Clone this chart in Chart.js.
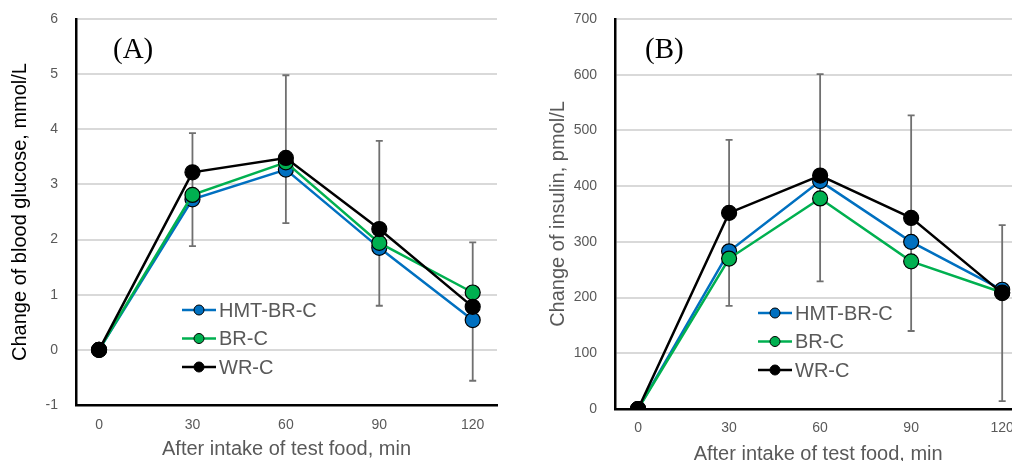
<!DOCTYPE html>
<html>
<head>
<meta charset="utf-8">
<script src="https://cdn.jsdelivr.net/npm/chart.js@4.4.0/dist/chart.umd.min.js"></script>
<style>
    html, body { margin: 0; padding: 0; background: #fff; }
    body { width: 1012px; height: 461px; overflow: hidden; position: relative; }
    #boxA { position: absolute; left: 0; top: 0; width: 506px; height: 461px; }
    #boxB { position: absolute; left: 510px; top: 0; width: 520px; height: 472px; }
</style>
</head>
<body>
<div id="boxA"><canvas id="chartA"></canvas></div>
<div id="boxB"><canvas id="chartB"></canvas></div>
<script>
// x values, min after intake
var timePoints = [0, 30, 60, 90, 120];
var seriesNames = ["HMT-BR-C", "BR-C", "WR-C"];

// (A) blood glucose, mmol/L
var glucoseHMT = [0, 2.73, 3.27, 1.85, 0.54];
var glucoseBR = [0, 2.81, 3.40, 1.94, 1.04];
var glucoseWR = [0, 3.22, 3.48, 2.19, 0.78];
var glucoseErrHigh = [null, 3.93, 4.98, 3.79, 1.95];
var glucoseErrLow = [null, 1.88, 2.30, 0.80, -0.56];
var glucoseTicks = [-1, 0, 1, 2, 3, 4, 5, 6];

// (B) insulin, pmol/L
var insulinHMT = [0, 283, 409, 300, 214];
var insulinBR = [0, 270, 378, 265, 209];
var insulinWR = [0, 352, 419, 343, 208];
var insulinErrHigh = [null, 483, 601, 527, 330];
var insulinErrLow = [null, 185, 229, 140, 14];
var insulinTicks = [0, 100, 200, 300, 400, 500, 600, 700];

var colors = ["#0070C0", "#00B050", "#000000"];
var textGray = "#595959";
var sansFont = "'Liberation Sans', Arial, sans-serif";

function toXY(vals) {
    return vals.map(function (v, i) { return { x: timePoints[i], y: v }; });
}

// error bars drawn under the lines
var errorBarPlugin = {
    id: "errorBars",
    beforeDatasetsDraw: function (chart) {
        var o = chart.options.plugins.errorBars;
        var ctx = chart.ctx, xs = chart.scales.x, ys = chart.scales.y;
        ctx.save();
        ctx.strokeStyle = "#707070";
        ctx.lineWidth = 1.8;
        for (var i = 0; i < timePoints.length; i++) {
            if (o.high[i] == null) continue;
            var px = xs.getPixelForValue(timePoints[i]);
            var y1 = ys.getPixelForValue(o.high[i]);
            var y2 = ys.getPixelForValue(o.low[i]);
            ctx.beginPath();
            ctx.moveTo(px, y1); ctx.lineTo(px, y2);
            ctx.moveTo(px - 3.5, y1); ctx.lineTo(px + 3.5, y1);
            ctx.moveTo(px - 3.5, y2); ctx.lineTo(px + 3.5, y2);
            ctx.stroke();
        }
        ctx.restore();
    }
};

// panel label and in-plot legend
var panelPlugin = {
    id: "panel",
    afterDatasetsDraw: function (chart) {
        var o = chart.options.plugins.panel;
        var ctx = chart.ctx;
        ctx.save();
        ctx.fillStyle = "#000";
        ctx.font = "29px 'Liberation Serif', 'Times New Roman', serif";
        ctx.textBaseline = "middle";
        ctx.textAlign = "left";
        ctx.fillText(o.label, o.labelX, o.labelY);

        chart.data.datasets.slice().sort(function (a, b) { return a.legendIndex - b.legendIndex; }).forEach(function (ds, k) {
            var y = o.legendY + k * o.legendGap;
            var x0 = o.legendX;
            ctx.strokeStyle = ds.borderColor;
            ctx.lineWidth = 2.5;
            ctx.beginPath();
            ctx.moveTo(x0, y); ctx.lineTo(x0 + 34, y);
            ctx.stroke();
            ctx.beginPath();
            ctx.arc(x0 + 17, y, 5, 0, Math.PI * 2);
            ctx.fillStyle = ds.pointBackgroundColor;
            ctx.fill();
            ctx.lineWidth = 1;
            ctx.strokeStyle = "#000";
            ctx.stroke();
            ctx.fillStyle = textGray;
            ctx.font = "20px " + sansFont;
            ctx.fillText(ds.label, x0 + 37, y + 1);
        });
        ctx.restore();
    }
};

function makeChart(id, p) {
    var datasets = p.series.map(function (vals, i) {
        return {
            label: seriesNames[i],
            legendIndex: i,
            data: toXY(vals),
            borderColor: colors[i],
            backgroundColor: colors[i],
            pointBackgroundColor: colors[i],
            pointBorderColor: "#000",
            pointBorderWidth: 1.2,
            pointRadius: 7.5,
            borderWidth: 2.5,
            tension: 0,
            order: 2 - i
        };
    });

    return new Chart(document.getElementById(id), {
        type: "line",
        data: { datasets: datasets },
        options: {
            responsive: true,
            maintainAspectRatio: false,
            animation: false,
            layout: { padding: { top: 19, left: 0, right: p.padRight, bottom: 0 } },
            plugins: {
                legend: { display: false },
                tooltip: { enabled: false },
                errorBars: { high: p.errHigh, low: p.errLow },
                panel: p.panel
            },
            scales: {
                x: {
                    type: "linear",
                    min: p.xMin,
                    max: p.xMax,
                    afterBuildTicks: function (axis) {
                        axis.ticks = timePoints.map(function (v) { return { value: v }; });
                    },
                    afterFit: function (axis) { axis.height = p.xHeight; },
                    grid: { display: false, drawTicks: false },
                    border: { display: true, color: "#000", width: 2.5 },
                    ticks: { color: textGray, font: { family: sansFont, size: 14 }, padding: p.xTickPad, maxRotation: 0 },
                    title: {
                        display: true,
                        text: "After intake of test food, min",
                        color: textGray,
                        font: { family: sansFont, size: 20 },
                        padding: { top: 0, bottom: p.xTitlePad }
                    }
                },
                y: {
                    type: "linear",
                    min: p.yTicks[0],
                    max: p.yTicks[p.yTicks.length - 1],
                    afterBuildTicks: function (axis) {
                        axis.ticks = p.yTicks.map(function (v) { return { value: v }; });
                    },
                    afterFit: function (axis) {
                        axis.width = p.yWidth;
                        axis.paddingTop = 0;
                        axis.paddingBottom = 0;
                    },
                    grid: { color: "#d9d9d9", lineWidth: 2, drawTicks: false },
                    border: { display: true, color: "#000", width: 2.5 },
                    ticks: { color: textGray, font: { family: sansFont, size: 14 }, padding: 18 },
                    title: {
                        display: true,
                        text: p.yTitle,
                        color: p.yTitleColor,
                        font: { family: sansFont, size: 20 },
                        padding: { top: p.yTitlePad, bottom: 0 }
                    }
                }
            }
        },
        plugins: [errorBarPlugin, panelPlugin]
    });
}

makeChart("chartA", {
    series: [glucoseHMT, glucoseBR, glucoseWR],
    errHigh: glucoseErrHigh,
    errLow: glucoseErrLow,
    yTicks: glucoseTicks,
    yTitle: "Change of blood glucose, mmol/L",
    yTitleColor: "#000",
    yTitlePad: 8,
    yWidth: 76,
    xMin: -7.4,
    xMax: 127.8,
    xHeight: 56,
    xTickPad: 12,
    xTitlePad: 0,
    padRight: 9,
    panel: { label: "(A)", labelX: 113, labelY: 50, legendX: 182, legendY: 310, legendGap: 28.5 }
});

makeChart("chartB", {
    series: [insulinHMT, insulinBR, insulinWR],
    errHigh: insulinErrHigh,
    errLow: insulinErrLow,
    yTicks: insulinTicks,
    yTitle: "Change of insulin, pmol/L",
    yTitleColor: textGray,
    yTitlePad: 36,
    yWidth: 105,
    xMin: -7.6,
    xMax: 126.3,
    xHeight: 63,
    xTickPad: 11,
    xTitlePad: 6,
    padRight: 0,
    panel: { label: "(B)", labelX: 135, labelY: 50, legendX: 248, legendY: 313, legendGap: 28.5 }
});
</script>
</body>
</html>
